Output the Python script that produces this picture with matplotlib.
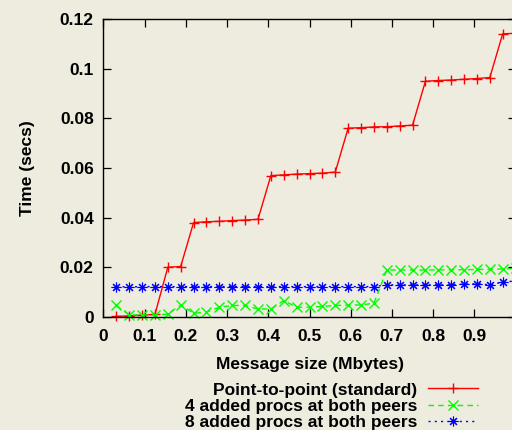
import numpy as np
import matplotlib
matplotlib.use("Agg")
import matplotlib.pyplot as plt

# Tamaños de mensaje (Mbytes): 32 pasos de 1/32
tam_msg = np.arange(1, 33) / 32.0

# Tiempos (segundos)
t_p2p = [0.0002, 0.0004, 0.0007, 0.0010, 0.0200, 0.0203,
         0.0380, 0.0383, 0.0385, 0.0388, 0.0390, 0.0393,
         0.0569, 0.0572, 0.0575, 0.0577, 0.0579, 0.0583,
         0.0760, 0.0762, 0.0765, 0.0766, 0.0769, 0.0772,
         0.0949, 0.0952, 0.0954, 0.0957, 0.0960, 0.0964,
         0.1140, 0.1142]
t_4procs = [0.0046, 0.0008, 0.0008, 0.0008, 0.0011, 0.0048,
            0.0015, 0.0019, 0.0039, 0.0046, 0.0046, 0.0032,
            0.0032, 0.0066, 0.0039, 0.0039, 0.0042, 0.0046,
            0.0048, 0.0048, 0.0055, 0.0189, 0.0189, 0.0189,
            0.0189, 0.0189, 0.0190, 0.0190, 0.0191, 0.0192,
            0.0193, 0.0195]
t_8procs = [0.0122, 0.0121, 0.0122, 0.0122, 0.0122, 0.0122,
            0.0122, 0.0122, 0.0122, 0.0122, 0.0122, 0.0122,
            0.0122, 0.0122, 0.0122, 0.0122, 0.0122, 0.0122,
            0.0122, 0.0122, 0.0122, 0.0129, 0.0129, 0.0129,
            0.0129, 0.0129, 0.0129, 0.0132, 0.0134, 0.0129,
            0.0140, 0.0145]

etiquetas = ["Point-to-point (standard)",
             "4 added procs at both peers",
             "8 added procs at both peers"]

fondo = "#eeebdf"
plt.rcParams["font.family"] = ["Liberation Sans", "DejaVu Sans"]
plt.rcParams["font.weight"] = "bold"
plt.rcParams["font.size"] = 12.5

fig = plt.figure(figsize=(5.12, 4.30), dpi=100, facecolor=fondo)
ax = fig.add_axes([0.202, 0.263, 0.805, 0.693], facecolor=fondo)

ax.plot(tam_msg, t_p2p, color="#ff0000", lw=1.0, ls="-",
        marker="+", ms=7.5, mew=1.0, label=etiquetas[0], clip_on=False)
ax.plot(tam_msg, t_4procs, color="#00ff00", lw=1.0, ls=(0, (4, 3)),
        marker="x", ms=7, mew=1.0, label=etiquetas[1], clip_on=False)
ax.plot(tam_msg, t_8procs, color="#0000ff", lw=1.0, ls=(0, (1.5, 3)),
        marker=(8, 2, 0), ms=7, mew=0.8, label=etiquetas[2], clip_on=False)

ax.set_xlim(0, 1)
ax.set_ylim(0, 0.12)
ax.set_xticks(np.arange(0, 1.01, 0.1))
ax.set_xticklabels(["%g" % v for v in np.arange(0, 0.91, 0.1)] + [""])
ax.set_yticks(np.arange(0, 0.121, 0.02))
ax.set_yticklabels(["%g" % round(v, 2) for v in np.arange(0, 0.121, 0.02)])
ax.tick_params(direction="in", length=6, width=0.9, top=True, right=True,
               colors="black")
ax.tick_params(axis="x", pad=9)
ax.tick_params(axis="y", pad=7)
for s in ax.spines.values():
    s.set_linewidth(1.0)

ax.set_xlabel("Message size (Mbytes)", fontweight="bold", labelpad=9)
ax.set_ylabel("Time (secs)", fontweight="bold", labelpad=18)

ax.legend(loc="upper right", bbox_to_anchor=(0.951, 0.131),
          bbox_transform=fig.transFigure, frameon=False, markerfirst=False,
          handlelength=2.9, handletextpad=0.6, labelspacing=0.07,
          borderpad=0, prop={"weight": "bold", "size": 12.5})

fig.savefig("out.png", dpi=100, facecolor=fondo)
